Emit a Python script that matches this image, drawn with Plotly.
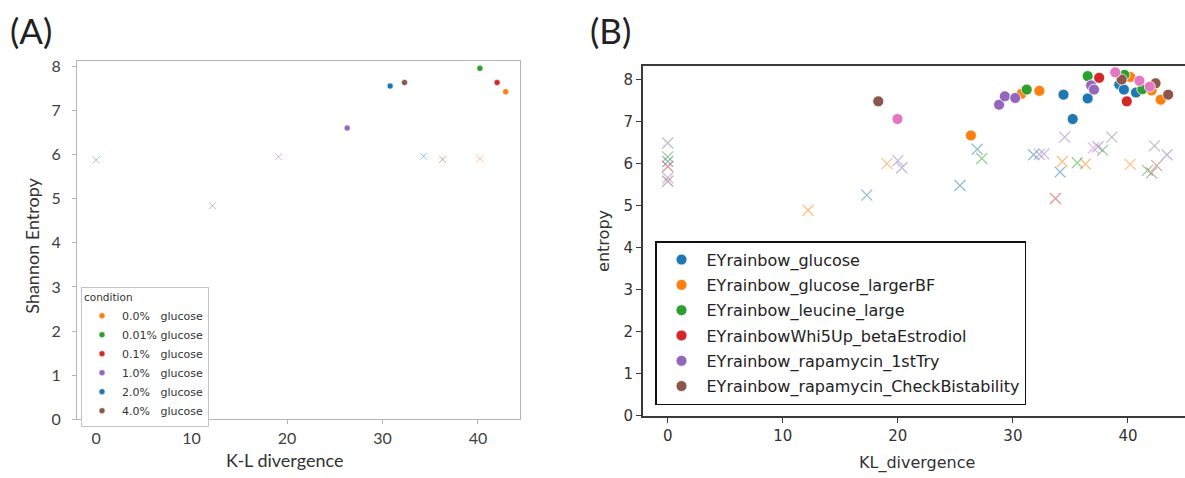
import plotly.graph_objects as go

# ---------------- Panel A data ----------------
a_labels = ["0.0%\u00a0\u00a0\u00a0glucose", "0.01%\u00a0glucose", "0.1%\u00a0\u00a0\u00a0glucose",
            "1.0%\u00a0\u00a0\u00a0glucose", "2.0%\u00a0\u00a0\u00a0glucose", "4.0%\u00a0\u00a0\u00a0glucose"]
a_colors = ["#ff7f0e", "#2ca02c", "#d62728", "#9467bd", "#1f77b4", "#8c564b"]
a_dot_kl = [42.9, 40.2, 42.0, 26.3, 30.8, 32.3]
a_dot_ent = [7.42, 7.95, 7.63, 6.60, 7.55, 7.63]
a_x_kl = [40.2, 0.0, 36.3, 19.1, 34.3, 12.2]
a_x_ent = [5.90, 5.88, 5.89, 5.95, 5.96, 4.84]
a_xticks = [0, 10, 20, 30, 40]
a_yticks = [0, 1, 2, 3, 4, 5, 6, 7, 8]

# ---------------- Panel B data ----------------
b_names = ["EYrainbow_glucose", "EYrainbow_glucose_largerBF", "EYrainbow_leucine_large",
           "EYrainbowWhi5Up_betaEstrodiol", "EYrainbow_rapamycin_1stTry",
           "EYrainbow_rapamycin_CheckBistability", "other_a", "other_b"]
b_in_legend = [True, True, True, True, True, True, False, False]
b_colors = ["#1f77b4", "#ff7f0e", "#2ca02c", "#d62728", "#9467bd", "#8c564b", "#e377c2", "#7f7f7f"]
b_dot_kl = [
    [34.4, 35.2, 36.5, 39.25, 39.65, 40.7],
    [26.35, 30.75, 32.3, 40.2, 42.06, 42.85],
    [31.2, 36.5, 39.7, 41.25],
    [37.5, 39.9],
    [28.8, 29.3, 30.2, 36.8, 37.05],
    [18.3, 39.45, 42.4, 43.5],
    [19.97, 38.9, 41.0, 41.9],
    [],
]
b_dot_ent = [
    [7.64, 7.06, 7.55, 7.88, 7.76, 7.69],
    [6.67, 7.66, 7.73, 8.06, 7.74, 7.52],
    [7.76, 8.08, 8.11, 7.77],
    [8.04, 7.48],
    [7.40, 7.60, 7.56, 7.86, 7.76],
    [7.48, 8.00, 7.91, 7.64],
    [7.06, 8.17, 7.97, 7.83],
    [],
]
b_x_kl = [
    [0.0, 17.3, 25.4, 26.9, 34.1, 31.8],
    [12.2, 19.05, 34.3, 36.3, 40.2],
    [0.0, 27.3, 35.6, 37.8, 41.7],
    [0.0, 33.7],
    [0.0, 20.0, 20.35, 32.3, 32.7, 34.5, 37.4, 43.4],
    [0.0, 42.05, 42.5],
    [37.0],
    [0.0, 38.6, 42.3],
]
b_x_ent = [
    [6.05, 5.25, 5.48, 6.34, 5.80, 6.21],
    [4.89, 6.00, 6.05, 5.99, 5.98],
    [6.16, 6.12, 6.02, 6.32, 5.84],
    [5.93, 5.17],
    [5.66, 6.07, 5.90, 6.22, 6.23, 6.63, 6.40, 6.21],
    [5.58, 5.78, 5.95],
    [6.37],
    [6.49, 6.63, 6.42],
]
b_xticks = [0, 10, 20, 30, 40]
b_yticks = [0, 1, 2, 3, 4, 5, 6, 7, 8]


def rgba(hex_color, alpha):
    h = hex_color.lstrip("#")
    r, g, b = int(h[0:2], 16), int(h[2:4], 16), int(h[4:6], 16)
    return f"rgba({r},{g},{b},{alpha})"


W, H = 1185, 478
fig = go.Figure()

# Panel A traces
for lab, col, xx, xy in zip(a_labels, a_colors, a_x_kl, a_x_ent):
    fig.add_trace(go.Scatter(
        x=[xx], y=[xy], mode="markers", xaxis="x", yaxis="y", showlegend=False,
        marker=dict(symbol="x-thin", size=7, line=dict(width=1, color=rgba(col, 0.45))),
        hoverinfo="skip"))
for lab, col, dx, dy in zip(a_labels, a_colors, a_dot_kl, a_dot_ent):
    fig.add_trace(go.Scatter(
        x=[dx], y=[dy], mode="markers", xaxis="x", yaxis="y", name=lab, legend="legend",
        marker=dict(symbol="circle", size=6, color=col, line=dict(width=0.5, color="white"))))

# Panel B traces
for name, col, kl, en in zip(b_names, b_colors, b_x_kl, b_x_ent):
    fig.add_trace(go.Scatter(
        x=kl, y=en, mode="markers", xaxis="x2", yaxis="y2", showlegend=False,
        legendgroup=name,
        marker=dict(symbol="x-thin", size=11, line=dict(width=1.2, color=rgba(col, 0.5))),
        hoverinfo="skip"))
for name, col, leg, kl, en in zip(b_names, b_colors, b_in_legend, b_dot_kl, b_dot_ent):
    fig.add_trace(go.Scatter(
        x=kl, y=en, mode="markers", xaxis="x2", yaxis="y2", name=name, legend="legend2",
        showlegend=leg, legendgroup=name,
        marker=dict(symbol="circle", size=11, color=col, line=dict(width=0.8, color="white"))))

FA = "Lato"
FB = "DejaVu Sans"

ax_a = dict(showline=True, mirror=True, linecolor="#b5b5b5", linewidth=1, ticks="outside",
            ticklen=4, tickcolor="#b5b5b5", showgrid=False, zeroline=False,
            tickfont=dict(family=FA, size=16, color="#404040"))
ax_b = dict(showline=True, linecolor="#3a3a3a", linewidth=1.8, ticks="outside",
            ticklen=5, tickcolor="#3a3a3a", showgrid=False, zeroline=False,
            tickfont=dict(family=FB, size=15, color="#333333"))

fig.update_layout(
    width=W, height=H, margin=dict(l=0, r=0, t=0, b=0),
    paper_bgcolor="white", plot_bgcolor="white",
    xaxis=dict(ax_a, domain=[77 / W, 520 / W], range=[-2.0, 44.4], tickvals=a_xticks,
               anchor="y"),
    yaxis=dict(ax_a, domain=[(H - 427) / H, (H - 58) / H], range=[0, 8.11], tickvals=a_yticks,
               anchor="x", ticklabelstandoff=8),
    xaxis2=dict(ax_b, domain=[643 / W, 1.0], range=[-2.15, 44.96], tickvals=b_xticks,
                anchor="y2", mirror=True),
    yaxis2=dict(ax_b, domain=[(H - 423.3) / H, (H - 63.3) / H], range=[0, 8.31],
                tickvals=b_yticks, anchor="x2"),
    legend=dict(x=81 / W, y=(H - 290) / H, xanchor="left", yanchor="top",
                bgcolor="white", bordercolor="#c4c4c4", borderwidth=1,
                font=dict(family=FB, size=11, color="#333333"),
                title=dict(text="condition", font=dict(family=FB, size=10.5, color="#333333")),
                itemsizing="trace", tracegroupgap=0),
    legend2=dict(x=655 / W, y=(H - 243.3) / H, xanchor="left", yanchor="top",
                 bgcolor="white", bordercolor="#111111", borderwidth=1.5,
                 font=dict(family=FB, size=16, color="#222222"),
                 itemsizing="trace", itemwidth=40, tracegroupgap=1.5, traceorder="grouped"),
    annotations=[
        dict(text="(A)", x=8 / W, y=(H - 26) / H, xref="paper", yref="paper",
             xanchor="left", yanchor="middle", showarrow=False,
             font=dict(family=FA, size=35, color="#222222")),
        dict(text="(B)", x=588 / W, y=(H - 26) / H, xref="paper", yref="paper",
             xanchor="left", yanchor="middle", showarrow=False,
             font=dict(family=FA, size=35, color="#222222")),
        dict(text="Shannon Entropy", x=32 / W, y=(H - 248) / H, xref="paper", yref="paper",
             xanchor="center", yanchor="middle", textangle=-90, showarrow=False,
             font=dict(family=FA, size=18, color="#333333")),
        dict(text="K-L divergence", x=284 / W, y=(H - 469) / H, xref="paper", yref="paper",
             xanchor="center", yanchor="middle", showarrow=False,
             font=dict(family=FA, size=18, color="#333333")),
        dict(text="entropy", x=604 / W, y=(H - 243) / H, xref="paper", yref="paper",
             xanchor="center", yanchor="middle", textangle=-90, showarrow=False,
             font=dict(family=FB, size=16, color="#333333")),
        dict(text="KL_divergence", x=917 / W, y=(H - 472) / H, xref="paper", yref="paper",
             xanchor="center", yanchor="middle", showarrow=False,
             font=dict(family=FB, size=16, color="#333333")),
    ],
)

fig.write_html("out.html")
